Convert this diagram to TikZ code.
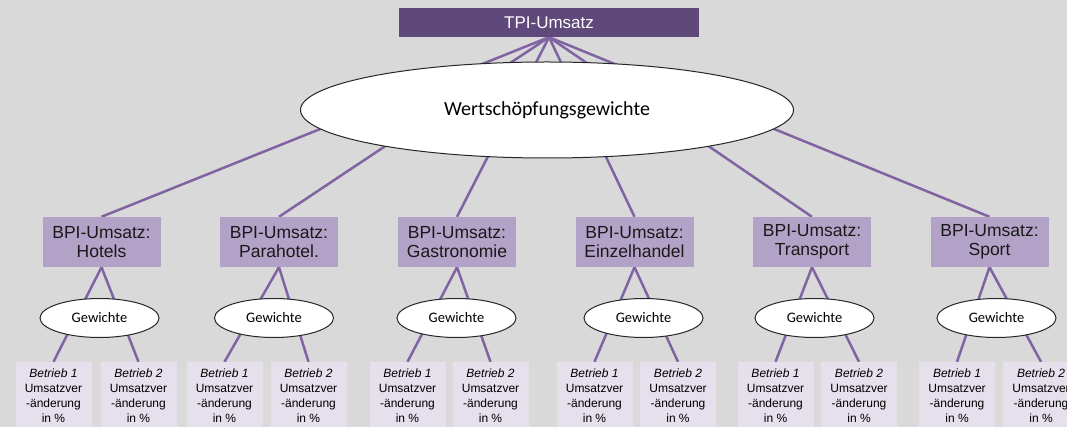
\documentclass[tikz,border=0pt]{standalone}
\usepackage{fontspec}
\setmainfont{Liberation Sans}
\newfontfamily\calibri{Carlito}
\usetikzlibrary{shapes.geometric}
\definecolor{bgc}{HTML}{D9D9D9}
\definecolor{tpic}{HTML}{5F497A}
\definecolor{bpic}{HTML}{B3A2C7}
\definecolor{leafc}{HTML}{E6E0EC}
\definecolor{linec}{HTML}{8064A2}
\pgfdeclarelayer{bg}
\pgfdeclarelayer{lines}
\pgfsetlayers{bg,lines,main}
\tikzset{
  tpibox/.style={rectangle, fill=tpic, text=white, inner sep=0pt, minimum width=300pt, minimum height=29pt, font=\fontsize{17}{20}\selectfont},
  bigell/.style={ellipse, fill=white, draw=black!85, line width=1pt, inner sep=0pt, minimum width=493pt, minimum height=96pt, font=\calibri\fontsize{20}{24}\selectfont},
  bpibox/.style={rectangle, fill=bpic, text=black!90, inner sep=0pt, minimum width=118pt, minimum height=50pt, align=center, font=\fontsize{17.5}{19.5}\selectfont},
  gewell/.style={ellipse, fill=white, draw=black!85, line width=1pt, inner sep=0pt, minimum width=119pt, minimum height=39pt, font=\calibri\fontsize{14.5}{17}\selectfont},
  leafbox/.style={rectangle, fill=leafc, text=black, inner sep=0pt, minimum width=76pt, minimum height=67pt, align=center, font=\fontsize{12}{15}\selectfont},
  conn/.style={draw=linec, line width=2.5pt}
}
\begin{document}
\begin{tikzpicture}[x=1pt,y=-1pt]
\begin{pgfonlayer}{bg}
\fill[bgc] (0,0) rectangle (1067,427);
\end{pgfonlayer}
\useasboundingbox (0,0) rectangle (1067,427);
\clip (0,0) rectangle (1067,427);
\node[tpibox] (tpi) at (549,22.5) {TPI-Umsatz};
\node[bigell] (wsg) at (547,110) {Wertschöpfungsgewichte};
% BPI boxes
\node[bpibox] (b1) at (101.5,242) {BPI-Umsatz:\\Hotels};
\node[bpibox] (b2) at (279,242) {BPI-Umsatz:\\Parahotel.};
\node[bpibox] (b3) at (457,242) {BPI-Umsatz:\\Gastronomie};
\node[bpibox] (b4) at (634.5,242) {BPI-Umsatz:\\Einzelhandel};
\node[bpibox] (b5) at (812,242) {BPI-Umsatz:\\Transport};
\node[bpibox] (b6) at (989.5,242) {BPI-Umsatz:\\Sport};
% Gewichte
\node[gewell] (g1) at (99.5,318) {Gewichte};
\node[gewell] (g2) at (274,318) {Gewichte};
\node[gewell] (g3) at (456.5,318) {Gewichte};
\node[gewell] (g4) at (643.5,318) {Gewichte};
\node[gewell] (g5) at (814.5,318) {Gewichte};
\node[gewell] (g6) at (996.5,318) {Gewichte};
% leaves
\foreach \n/\x/\k in {l1a/53.5/1, l1b/138.5/2, l2a/224.5/1, l2b/308.5/2, l3a/407.5/1, l3b/490.5/2, l4a/594.5/1, l4b/678/2, l5a/775.5/1, l5b/859/2, l6a/957/1, l6b/1041/2}{
  \node[leafbox] (\n) at (\x,395.5) {\textit{Betrieb \k}\\Umsatzver\\-änderung\\in \%};
}
\begin{pgfonlayer}{lines}
\foreach \i in {1,...,6}{
  \draw[conn] (tpi.south) -- (b\i.north);
  \draw[conn] (b\i.south) -- (l\i a.north);
  \draw[conn] (b\i.south) -- (l\i b.north);
}
\end{pgfonlayer}
\end{tikzpicture}
\end{document}
